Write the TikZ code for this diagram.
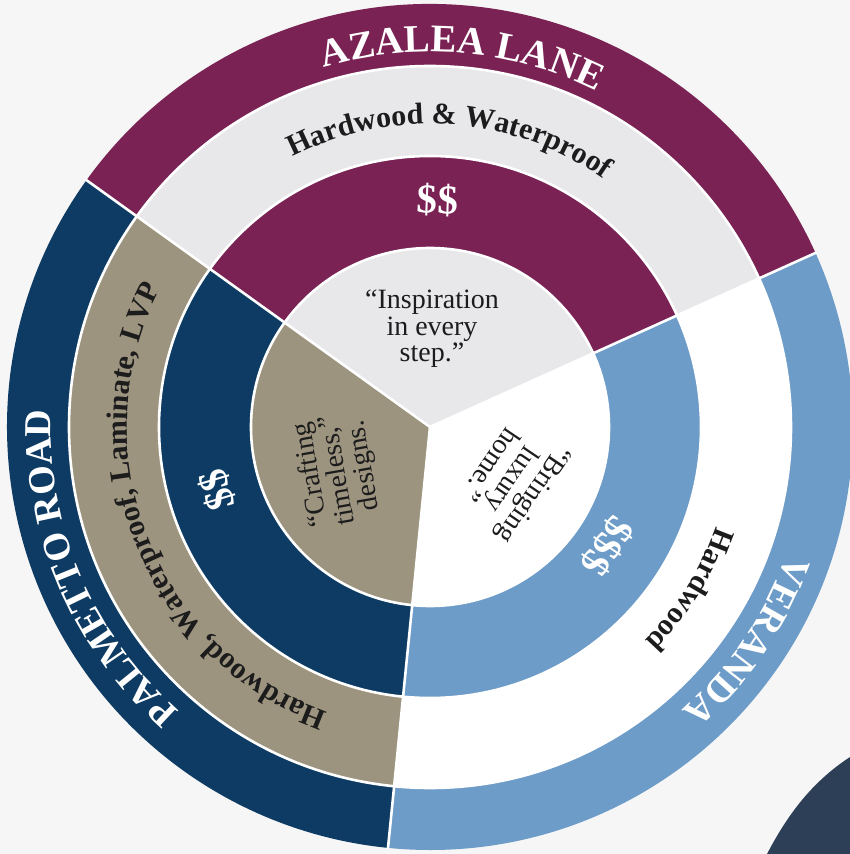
\documentclass[tikz,border=0pt]{standalone}
\usepackage{fontspec}
\setmainfont{Liberation Serif}
\usetikzlibrary{decorations.text}
\definecolor{azpurple}{HTML}{7A2254}
\definecolor{pnavy}{HTML}{0D3B63}
\definecolor{ptan}{HTML}{9D9480}
\definecolor{vblue}{HTML}{6D9CC8}
\definecolor{lgray}{HTML}{E8E7EA}
\definecolor{bgcol}{HTML}{F6F6F6}
\definecolor{blobcol}{HTML}{2C3F57}
\definecolor{textdark}{HTML}{1C1C1C}
\begin{document}
\begin{tikzpicture}[x=1pt,y=1pt,
  sep/.style={white, line width=2.6pt},
  pricetext/.style={text=white, font=\bfseries\fontsize{41}{42}\selectfont, inner sep=0pt},
  quotetext/.style={text=textdark, align=center, font=\fontsize{28}{26.5}\selectfont, inner sep=0pt}]
\useasboundingbox (-430,-427) rectangle (420,427);
\fill[bgcol] (-430,-427) rectangle (420,427);
\fill[blobcol] (337,-427) .. controls (360,-383) and (385,-353) .. (420,-330) -- (420,-427) -- cycle;
% sectors: outer band, material band, price band, centre
\foreach \a/\co/\cm/\cp/\cc in {24.3/azpurple/lgray/azpurple/lgray, 144.3/pnavy/ptan/pnavy/ptan, 264.3/vblue/white/vblue/white}{
  \pgfmathsetmacro{\b}{\a+120}
  \fill[\co] (0,0) -- (\a:423) arc[start angle=\a, end angle=\b, radius=423] -- cycle;
  \fill[\cm] (0,0) -- (\a:361) arc[start angle=\a, end angle=\b, radius=361] -- cycle;
  \fill[\cp] (0,0) -- (\a:271) arc[start angle=\a, end angle=\b, radius=271] -- cycle;
  \fill[\cc] (0,0) -- (\a:179) arc[start angle=\a, end angle=\b, radius=179] -- cycle;
}
% white separators
\draw[sep] (0,0) circle[radius=361];
\draw[sep] (0,0) circle[radius=271];
\draw[sep] (0,0) circle[radius=179];
\coordinate (c) at (0,0);
\coordinate (e1) at (24.3:424);
\coordinate (e2) at (144.3:424);
\coordinate (e3) at (264.3:424);
\draw[sep] (c) -- (e1);
\draw[sep] (c) -- (e2);
\draw[sep] (c) -- (e3);
% outer names
\path[decorate, decoration={text along path, text align=center, text color=white,
  text={|\bfseries\fontsize{39}{40}\selectfont|AZALEA LANE}}]
  (145:375) arc[start angle=145, end angle=25, radius=375];
\path[decorate, decoration={text along path, text align=center, text color=white,
  text={|\bfseries\fontsize{38}{40}\selectfont|PALMETTO ROAD}}]
  (263:379) arc[start angle=263, end angle=143, radius=379];
\path[decorate, decoration={text along path, text align=center, text color=white,
  text={|\bfseries\fontsize{38}{40}\selectfont|VERANDA}}]
  (386:379) arc[start angle=386, end angle=266, radius=379];
% materials
\path[decorate, decoration={text along path, text align=center, text color=textdark,
  text={|\bfseries\fontsize{30}{32}\selectfont|Hardwood {\&} Waterproof}}]
  (146:303) arc[start angle=146, end angle=26, radius=303];
\path[decorate, decoration={text along path, text align=center, text color=textdark,
  text={|\bfseries\fontsize{30}{32}\selectfont|Hardwood, Waterproof, Laminate, LVP}}]
  (261.5:303) arc[start angle=261.5, end angle=141.5, radius=303];
\path[decorate, decoration={text along path, text align=center, text color=textdark,
  text={|\bfseries\fontsize{30}{32}\selectfont|Hardwood}}]
  (388:303) arc[start angle=388, end angle=268, radius=303];
% prices
\node[pricetext, rotate=-2] (azprice) at (88:227) {\$\$};
\node[pricetext, rotate=106.5] (paprice) at (196.5:222) {\$\$};
\node[pricetext, rotate=236] (veprice) at (326:214) {\$\$\$};
% quotes
\node[quotetext] (azquote) at (2,98) {“Inspiration\\in every\\step.”};
\node[quotetext, rotate=100] (paquote) at (-92,-43) {“Crafting\\timeless,”\\designs.};
\node[quotetext, rotate=236] (vequote) at (83,-53) {“Bringing\\luxury\\home.”};
\end{tikzpicture}
\end{document}
